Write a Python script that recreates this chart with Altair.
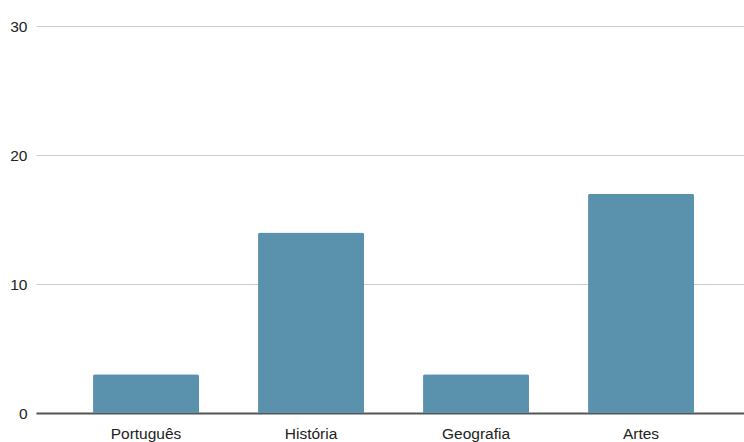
import altair as alt
import pandas as pd

subjects = ["Português", "História", "Geografia", "Artes"]
counts = [3, 14, 3, 17]

df = pd.DataFrame({"disciplina": subjects, "total": counts})

bars = alt.Chart(df).mark_bar(
    color="#5a92ae",
    cornerRadiusTopLeft=2,
    cornerRadiusTopRight=2,
).encode(
    x=alt.X(
        "disciplina:N",
        sort=subjects,
        title=None,
        scale=alt.Scale(paddingInner=0.3576, paddingOuter=0.3242, align=0.533),
        axis=alt.Axis(
            labelAngle=0,
            labelFont="Liberation Sans",
            labelFontSize=15.5,
            labelColor="#222222",
            labelPadding=13,
            ticks=False,
            domainColor="#555555",
            domainWidth=2,
            grid=False,
        ),
    ),
    y=alt.Y(
        "total:Q",
        title=None,
        scale=alt.Scale(domain=[0, 30], nice=False),
        axis=alt.Axis(
            values=[0, 10, 20, 30],
            labelFont="Liberation Sans",
            labelFontSize=15.5,
            labelColor="#222222",
            labelPadding=9,
            ticks=False,
            domain=False,
            gridColor="#cccccc",
            gridWidth=1,
        ),
    ),
)

chart = bars.properties(
    width=708,
    height=387,
    autosize="none",
    padding={"left": 36, "top": 26, "right": 0, "bottom": 29},
    background="white",
).configure_view(stroke=None)

chart.save("out.html", embed_options={"renderer": "svg", "actions": False})
